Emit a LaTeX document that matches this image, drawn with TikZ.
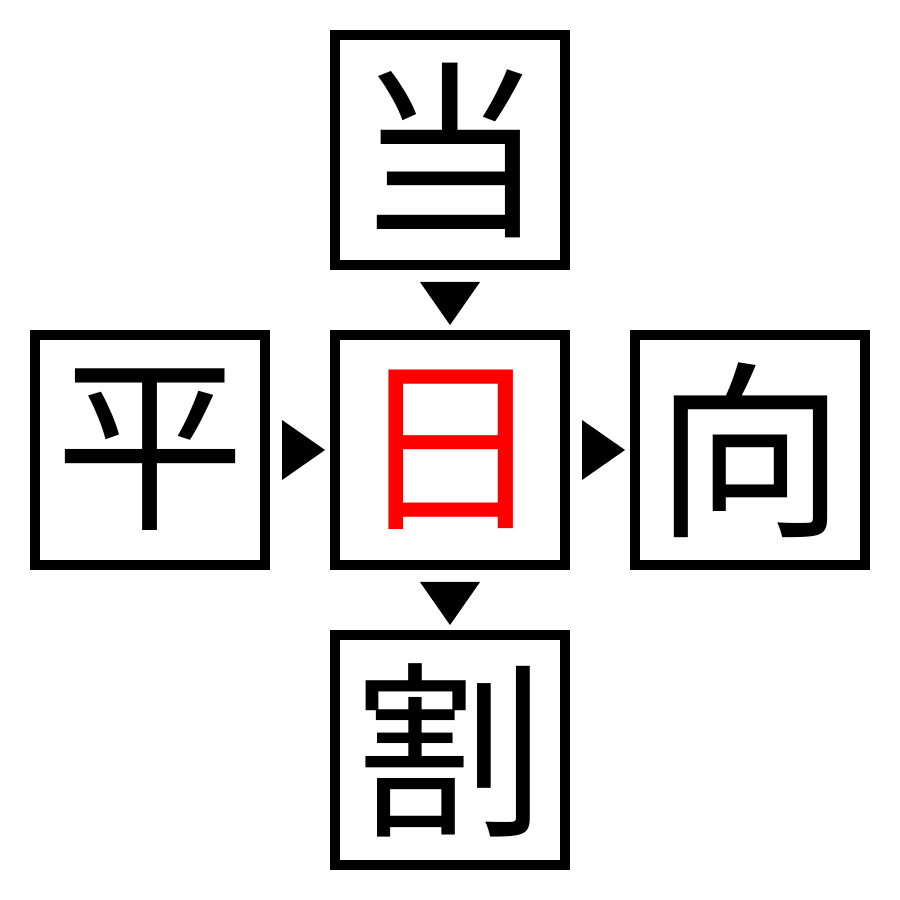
\documentclass[tikz,border=0pt]{standalone}
\usepackage{fontspec}
\newfontfamily\kanji{Noto Sans CJK JP}
\usetikzlibrary{calc}
\tikzset{
  kbox/.style={draw, line width=1mm, minimum size=2.3cm, inner sep=0pt,
    font=\kanji\fontsize{54}{54}\selectfont}
}

\begin{document}
\begin{tikzpicture}
  \useasboundingbox (0,0) rectangle (9,9);
  \node[kbox] (top) at (4.5,7.5) {当};
  \node[kbox] (left) at (1.5,4.5) {平};
  \node[kbox, text=red] (mid) at (4.5,4.5) {日};
  \node[kbox] (right) at (7.5,4.5) {向};
  \node[kbox] (bot) at (4.5,1.5) {割};
  % markers between boxes
  \fill ($(top.south)+(-0.3,-0.12)$) -- ++(0.6,0) -- ($(mid.north)+(0,0.05)$) -- cycle;
  \fill ($(mid.south)+(-0.3,-0.12)$) -- ++(0.6,0) -- ($(bot.north)+(0,0.05)$) -- cycle;
  \fill ($(left.east)+(0.12,0.3)$) -- ++(0,-0.6) -- ($(mid.west)+(-0.05,0)$) -- cycle;
  \fill ($(mid.east)+(0.12,0.3)$) -- ++(0,-0.6) -- ($(right.west)+(-0.05,0)$) -- cycle;
\end{tikzpicture}
\end{document}
